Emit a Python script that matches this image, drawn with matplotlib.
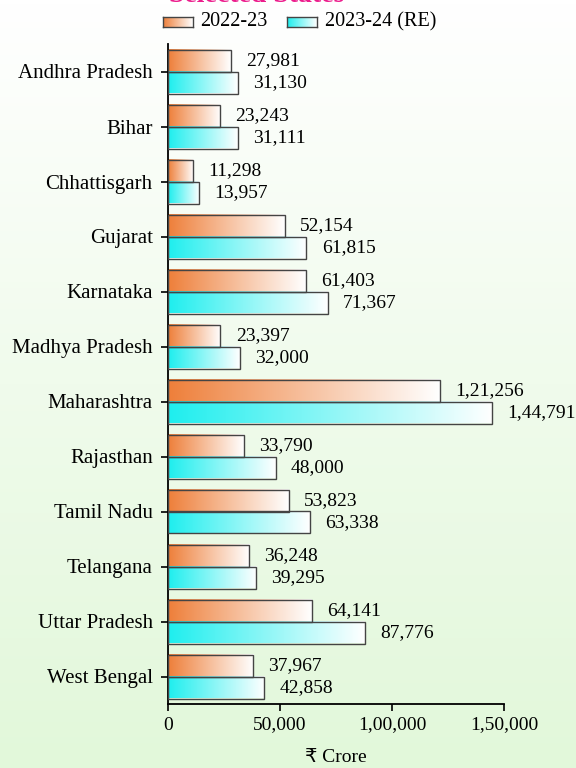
"""Horizontal grouped bar chart: selected states, 2022-23 vs 2023-24 (RE)."""
import numpy as np
import matplotlib
matplotlib.use("Agg")
import matplotlib.pyplot as plt
from matplotlib.colors import LinearSegmentedColormap
from matplotlib.ticker import FuncFormatter

# --- Data ---
STATES = [
    "Andhra Pradesh", "Bihar", "Chhattisgarh", "Gujarat", "Karnataka",
    "Madhya Pradesh", "Maharashtra", "Rajasthan", "Tamil Nadu", "Telangana",
    "Uttar Pradesh", "West Bengal",
]
VAL_2223 = [27981, 23243, 11298, 52154, 61403, 23397, 121256, 33790, 53823,
            36248, 64141, 37967]
VAL_2324 = [31130, 31111, 13957, 61815, 71367, 32000, 144791, 48000, 63338,
            39295, 87776, 42858]
XTICKS = [0, 50000, 100000, 150000]

ORANGE = "#ee7f3a"
CYAN = "#1eeeee"
FONT = ["Liberation Serif", "DejaVu Sans"]


def indian(n):
    """Format an integer with Indian digit grouping (1,21,256)."""
    s = str(int(n))
    if len(s) <= 3:
        return s
    head, tail = s[:-3], s[-3:]
    groups = []
    while len(head) > 2:
        groups.insert(0, head[-2:])
        head = head[:-2]
    if head:
        groups.insert(0, head)
    return ",".join(groups) + "," + tail


def gradient_cmap(color):
    return LinearSegmentedColormap.from_list("g", [color, "#ffffff"])


plt.rcParams["font.family"] = FONT

fig = plt.figure(figsize=(5.76, 7.68), dpi=100)

# background: white at top fading to pale green
bg = fig.add_axes([0, 0, 1, 1], zorder=-10)
grad = np.linspace(0, 1, 256).reshape(-1, 1)
bg.imshow(grad, aspect="auto", cmap=LinearSegmentedColormap.from_list(
    "bg", ["#ffffff", "#f0fbec", "#e2f8da"]), extent=(0, 1, 0, 1))
bg.axis("off")

ax = fig.add_axes([168 / 576, 1 - 704 / 768, 336 / 576, 660 / 768])
ax.patch.set_alpha(0)

h = 0.4
row = np.linspace(0, 1, 256).reshape(1, -1)
for i in range(len(STATES)):
    for val, off, col in ((VAL_2223[i], -h, ORANGE), (VAL_2324[i], 0, CYAN)):
        ax.imshow(row, cmap=gradient_cmap(col), aspect="auto",
                  extent=(0, val, i + off + h, i + off), zorder=2)

y = np.arange(len(STATES))
ax.barh(y - h / 2, VAL_2223, height=h, facecolor="none",
        edgecolor="#444444", linewidth=1, zorder=3)
ax.barh(y + h / 2, VAL_2324, height=h, facecolor="none",
        edgecolor="#444444", linewidth=1, zorder=3)

for i in range(len(STATES)):
    ax.annotate(indian(VAL_2223[i]), (VAL_2223[i], i - h / 2),
                xytext=(11, 0), textcoords="offset points",
                va="center", ha="left", fontsize=14, annotation_clip=False)
    ax.annotate(indian(VAL_2324[i]), (VAL_2324[i], i + h / 2),
                xytext=(11, 0), textcoords="offset points",
                va="center", ha="left", fontsize=14, annotation_clip=False)

ax.set_xlim(0, 150000)
ax.set_ylim(len(STATES) - 0.5, -0.5)
ax.set_yticks(y)
ax.set_yticklabels(STATES, fontsize=15)
ax.set_xticks(XTICKS)
ax.xaxis.set_major_formatter(FuncFormatter(lambda v, p: indian(v)))
ax.tick_params(axis="x", labelsize=14, length=5, width=1.2, pad=4)
ax.tick_params(axis="y", length=5, width=1.2, pad=6)
ax.set_xlabel("₹ Crore", fontsize=14, labelpad=11)

for s in ("top", "right"):
    ax.spines[s].set_visible(False)
for s in ("left", "bottom"):
    ax.spines[s].set_linewidth(1.3)

# legend with gradient swatches
for x0, col, label, tx in ((163, ORANGE, "2022-23", 200),
                           (287, CYAN, "2023-24 (RE)", 325)):
    lax = fig.add_axes([x0 / 576, 1 - 27 / 768, 30 / 576, 10 / 768])
    lax.imshow(row, cmap=gradient_cmap(col), aspect="auto")
    lax.set_xticks([])
    lax.set_yticks([])
    for sp in lax.spines.values():
        sp.set_color("#444444")
        sp.set_linewidth(1)
    fig.text(tx / 576, 1 - 22 / 768, label, fontsize=14.5, va="center",
             ha="left")

# title, mostly cut off at the top edge
fig.text(257 / 576, 1 - 1.5 / 768, "Selected States", fontsize=20,
         fontweight="bold", color="#ec1c8c", ha="center", va="baseline")

fig.savefig("out.png", dpi=100)
